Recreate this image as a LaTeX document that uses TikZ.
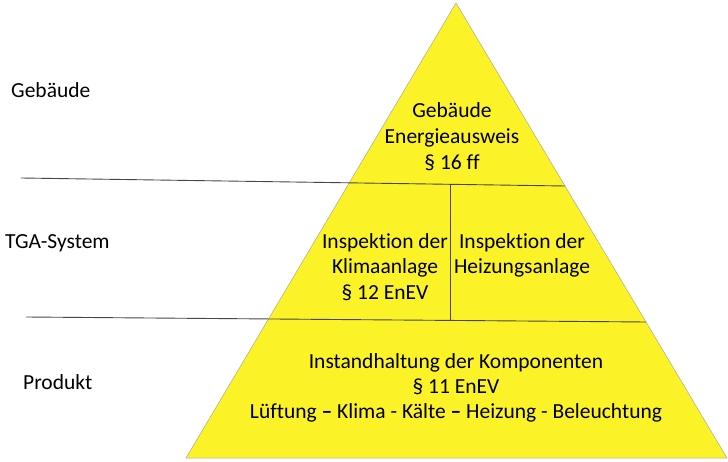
\documentclass[tikz,border=0pt]{standalone}
\usepackage{fontspec}
\setmainfont[Ligatures=NoCommon]{Carlito}
\definecolor{pyryellow}{RGB}{252,242,40}
\definecolor{edgegray}{RGB}{170,170,150}
\definecolor{linegray}{RGB}{70,70,70}
\tikzset{
  txt/.style={anchor=base,inner sep=0pt,font=\fontsize{21.5}{26}\selectfont,text=black},
  lvl/.style={txt,anchor=base west},
  sep/.style={draw=linegray,line width=0.9pt},
}
\begin{document}
\begin{tikzpicture}[x=1pt,y=-1pt]
\useasboundingbox (0,0) rectangle (728,462);
% pyramid
\coordinate (apex) at (456,3);
\coordinate (bl) at (186,458);
\coordinate (br) at (727,458);
\fill[pyryellow] (apex) -- (br) -- (bl) -- cycle;
\draw[draw=edgegray,line width=0.5pt] (apex) -- (br) -- (bl) -- cycle;
% separator lines
\coordinate (l1a) at (21,178);
\coordinate (l1b) at (565,186);
\coordinate (l2a) at (26,317);
\coordinate (l2b) at (646,322);
\coordinate (va) at (450,185);
\coordinate (vb) at (450,321);
\draw[sep] (l1a) -- (l1b);
\draw[sep] (l2a) -- (l2b);
\draw[sep] (va) -- (vb);
% level labels
\node[lvl] (lg) at (11,98) {Gebäude};
\node[lvl] (lt) at (5,249) {TGA-System};
\node[lvl] (lp) at (23,389) {Produkt};
% top
\node[txt] (t1) at (452,118) {Gebäude};
\node[txt] (t2) at (452,144) {Energieausweis};
\node[txt] (t3) at (452,170) {§ 16 ff};
% middle left
\node[txt] (m1) at (385,249) {Inspektion der};
\node[txt] (m2) at (385,274) {Klimaanlage};
\node[txt] (m3) at (385,299) {§ 12 EnEV};
% middle right
\node[txt] (r1) at (522,249) {Inspektion der};
\node[txt] (r2) at (522,274) {Heizungsanlage};
% bottom
\node[txt] (b1) at (456,368) {Instandhaltung der Komponenten};
\node[txt] (b2) at (456,393) {§ 11 EnEV};
\node[txt] (b3) at (456,418) {Lüftung {\bfseries –} Klima - Kälte {\bfseries –} Heizung - Beleuchtung};
\end{tikzpicture}
\end{document}
